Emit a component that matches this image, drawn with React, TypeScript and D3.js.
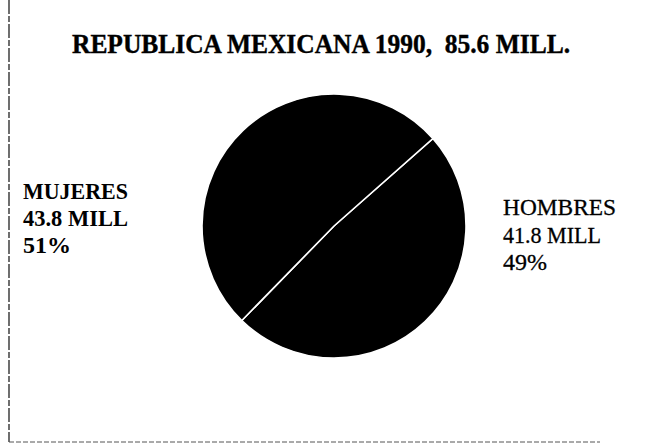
import React from "react";
import * as d3 from "d3";

const title = "REPUBLICA MEXICANA 1990,  85.6 MILL.";
const categories = ["HOMBRES", "MUJERES"];
const values = [41.8, 43.8];
const millLabels = ["41.8 MILL", "43.8 MILL"];
const pctLabels = ["49%", "51%"];

const W = 662;
const H = 445;
const cx = 334;
const cy = 226;
const R = 132;
const startDeg = 48.5;

export default function App() {
  const pie = d3
    .pie<number>()
    .sort(null)
    .value((d) => d)
    .startAngle((startDeg * Math.PI) / 180)
    .endAngle(((startDeg + 360) * Math.PI) / 180);
  const arcs = pie(values);
  const arc = d3.arc<d3.PieArcDatum<number>>().innerRadius(0).outerRadius(R);
  const font = "'Liberation Serif', 'Times New Roman', serif";

  return (
    <svg
      width={W}
      height={H}
      style={{ position: "absolute", left: 0, top: 0, background: "#fff" }}
    >
      <rect x={0} y={0} width={W} height={H} fill="#fff" />
      {/* frame lines from scan */}
      <line x1={9} y1={0} x2={9} y2={442} stroke="#222" strokeWidth={1.3} strokeDasharray="14 2 6 2" />
      <line x1={9} y1={442} x2={600} y2={442} stroke="#555" strokeWidth={1} strokeDasharray="5 2" />

      <text
        x={72}
        y={53}
        fontFamily={font}
        fontWeight="bold"
        fontSize={27}
        fill="#000"
        stroke="#000"
        strokeWidth={0.4}
        textLength={498}
        lengthAdjust="spacingAndGlyphs"
        style={{ whiteSpace: "pre" }}
      >
        {title}
      </text>

      <g transform={`translate(${cx},${cy})`}>
        {arcs.map((a, i) => (
          <path key={categories[i]} d={arc(a) || ""} fill="#000" stroke="#fff" strokeWidth={1.6} />
        ))}
      </g>

      {/* MUJERES label (left) */}
      <g fontFamily={font} fill="#000" fontSize={24} fontWeight="bold">
        <text x={23} y={199} textLength={105} lengthAdjust="spacingAndGlyphs">
          {categories[1]}
        </text>
        <text x={23} y={226} textLength={105} lengthAdjust="spacingAndGlyphs">
          {millLabels[1]}
        </text>
        <text x={23} y={253}>
          {pctLabels[1]}
        </text>
      </g>

      {/* HOMBRES label (right) */}
      <g fontFamily={font} fill="#000" fontSize={24} stroke="#000" strokeWidth={0.3}>
        <text x={503} y={215} textLength={113} lengthAdjust="spacingAndGlyphs">
          {categories[0]}
        </text>
        <text x={503} y={243} textLength={98} lengthAdjust="spacingAndGlyphs">
          {millLabels[0]}
        </text>
        <text x={503} y={270}>
          {pctLabels[0]}
        </text>
      </g>
    </svg>
  );
}
